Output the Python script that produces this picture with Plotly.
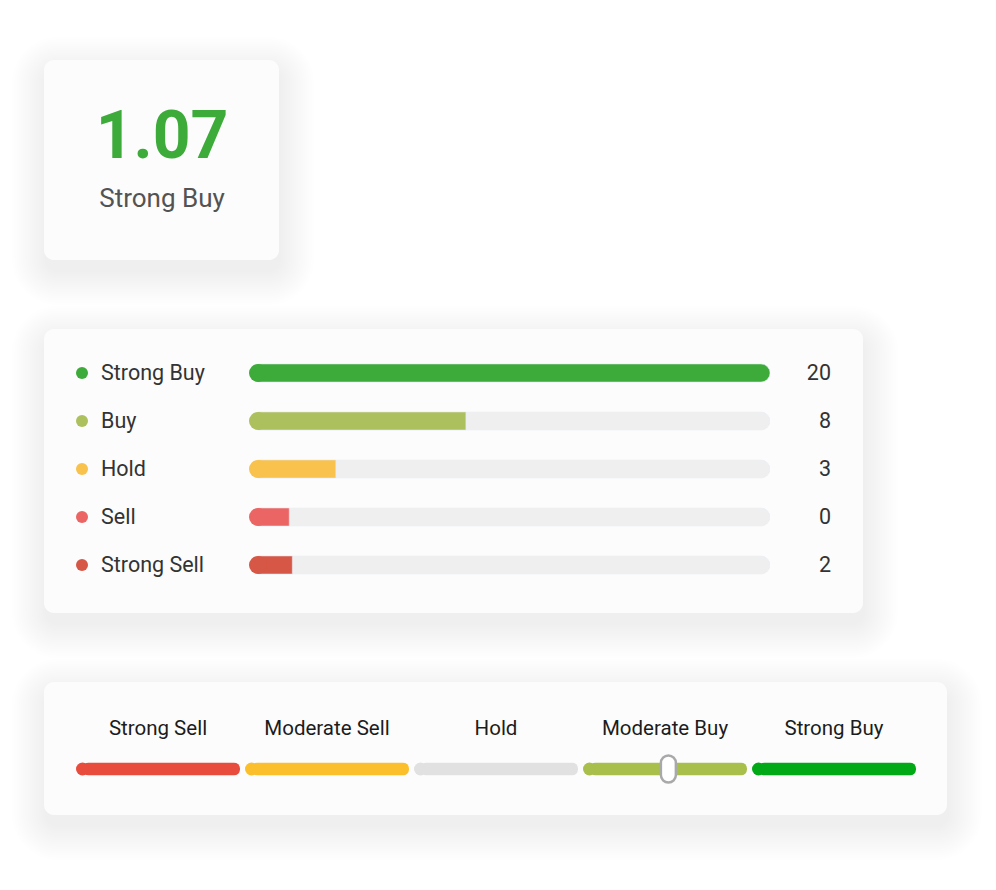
import plotly.graph_objects as go

# ---- data ----
score_value = "1.07"
score_label = "Strong Buy"

rating_names = ["Strong Buy", "Buy", "Hold", "Sell", "Strong Sell"]
rating_counts = [20, 8, 3, 0, 2]
rating_fill_pct = [100, 40.6, 15.2, 6.1, 6.7]   # filled share of each track
rating_colors = ["#3dab3a", "#adc05e", "#f8c24c", "#ec6565", "#d65745"]

gauge_names = ["Strong Sell", "Moderate Sell", "Hold", "Moderate Buy", "Strong Buy"]
gauge_colors = ["#e84c3d", "#fcbf2c", "#e1e1e1", "#a9bf4c", "#02a917"]
knob_value = 3.02   # knob position, in gauge segments (0 = Strong Sell ... 4 = Strong Buy)

OFF = 8                  # body margin of the page
W, H = 996 - OFF, 890 - OFF
FONT = "Roboto"


def px_x(p):
    # page pixel -> paper fraction (x)
    return (p - OFF) / W


def px_y(p):
    # page pixel from top -> paper fraction (y)
    return 1 - (p - OFF) / H


def rounded_rect(x0, y0, x1, y1, r):
    k = 0.5523 * r
    return (f"M {x0+r},{y0} L {x1-r},{y0} C {x1-r+k},{y0} {x1},{y0+r-k} {x1},{y0+r} "
            f"L {x1},{y1-r} C {x1},{y1-r+k} {x1-r+k},{y1} {x1-r},{y1} "
            f"L {x0+r},{y1} C {x0+r-k},{y1} {x0},{y1-r+k} {x0},{y1-r} "
            f"L {x0},{y0+r} C {x0},{y0+r-k} {x0+r-k},{y0} {x0+r},{y0} Z")


fig = go.Figure()
shapes = []

# cards with soft shadows
cards = [(44, 60, 279, 260), (44, 329, 863, 613), (44, 682, 947, 815)]
for (x0, y0, x1, y1) in cards:
    for i in range(16, 0, -1):
        e = i * 2.2
        shapes.append(dict(type="path", xref="x", yref="y", layer="below",
                           path=rounded_rect(x0 - e + 3, y0 - e + 12, x1 + e, y1 + e + 10, 10 + e),
                           fillcolor="rgba(30,30,50,0.0036)", line=dict(width=0)))
    shapes.append(dict(type="path", xref="x", yref="y", layer="below",
                       path=rounded_rect(x0, y0, x1, y1, 10),
                       fillcolor="#fcfcfc", line=dict(width=0)))

# card 1: score
fig.add_trace(go.Scatter(x=[162], y=[141], mode="text", text=[score_value],
                         textfont=dict(family=FONT, size=66, color="#3dab3a", weight="bold"),
                         xaxis="x", yaxis="y", hoverinfo="skip"))
fig.add_trace(go.Scatter(x=[162], y=[200], mode="text", text=[score_label],
                         textfont=dict(family=FONT, size=26, color="#535353"),
                         xaxis="x", yaxis="y", hoverinfo="skip"))

# card 2: rating breakdown bars (left cap drawn by a round marker at the base)
fig.add_trace(go.Bar(y=rating_names, x=[100] * len(rating_names), orientation="h",
                     marker=dict(color="#efefef", cornerradius=9), width=0.375,
                     xaxis="x2", yaxis="y2", hoverinfo="skip"))
fig.add_trace(go.Bar(y=rating_names, x=rating_fill_pct, orientation="h",
                     marker=dict(color=rating_colors, cornerradius=9), width=0.375,
                     xaxis="x2", yaxis="y2", hoverinfo="skip"))
fig.add_trace(go.Scatter(y=rating_names, x=[0] * len(rating_names), mode="markers",
                         marker=dict(color=rating_colors, size=18, line=dict(width=0)),
                         cliponaxis=False, xaxis="x2", yaxis="y2", hoverinfo="skip"))
fig.add_trace(go.Scatter(y=rating_names, x=[82] * len(rating_names), mode="markers",
                         marker=dict(color=rating_colors, size=12, line=dict(width=0)),
                         cliponaxis=False, xaxis="x", yaxis="y2", hoverinfo="skip"))
# text rows sit on a copy of the row axis nudged 2 px down
fig.add_trace(go.Scatter(y=rating_names, x=[101] * len(rating_names), mode="text",
                         text=rating_names, textposition="middle right",
                         textfont=dict(family=FONT, size=21.5, color="#333333"),
                         cliponaxis=False, xaxis="x", yaxis="y4", hoverinfo="skip"))
fig.add_trace(go.Scatter(y=rating_names, x=[831] * len(rating_names), mode="text",
                         text=[str(c) for c in rating_counts], textposition="middle left",
                         textfont=dict(family=FONT, size=21.5, color="#333333"),
                         cliponaxis=False, xaxis="x", yaxis="y4", hoverinfo="skip"))

# card 3: gauge (169 px per segment, 164 px bar, 6.5 px cap radius)
seg_half = 82 / 169
cap = 6.5 / 169
seg_pos = list(range(len(gauge_names)))
fig.add_trace(go.Bar(y=[0] * len(gauge_names), x=[2 * seg_half - cap] * len(gauge_names),
                     base=[i - seg_half + cap for i in seg_pos], orientation="h",
                     marker=dict(color=gauge_colors, cornerradius=6.5, line=dict(width=0)),
                     width=1, xaxis="x3", yaxis="y3", hoverinfo="skip"))
fig.add_trace(go.Scatter(y=[0] * len(gauge_names), x=[i - seg_half + cap for i in seg_pos],
                         mode="markers", marker=dict(color=gauge_colors, size=13, line=dict(width=0)),
                         cliponaxis=False, xaxis="x3", yaxis="y3", hoverinfo="skip"))
fig.add_trace(go.Scatter(x=seg_pos, y=[730] * len(gauge_names), mode="text",
                         text=gauge_names, textposition="middle center",
                         textfont=dict(family=FONT, size=20.5, color="#1c1c1c"),
                         xaxis="x3", yaxis="y", hoverinfo="skip"))

# knob capsule
shapes.append(dict(type="path", xref="x3", yref="y", layer="above",
                   xsizemode="pixel", ysizemode="pixel", xanchor=knob_value, yanchor=769,
                   path=rounded_rect(-7.5, -13.5, 7.5, 13.5, 7.5),
                   fillcolor="#ffffff", line=dict(color="#a9a9a9", width=2.5)))

hidden = dict(visible=False, showgrid=False, zeroline=False, fixedrange=True)
fig.update_layout(
    width=W, height=H, autosize=False,
    margin=dict(l=0, r=0, t=0, b=0),
    paper_bgcolor="#ffffff", plot_bgcolor="rgba(0,0,0,0)",
    showlegend=False, barmode="overlay", shapes=shapes,
    xaxis=dict(range=[OFF, OFF + W], domain=[0, 1], **hidden),
    yaxis=dict(range=[OFF + H, OFF], domain=[0, 1], **hidden),
    xaxis2=dict(range=[0, 100], domain=[px_x(258), px_x(770)], anchor="y2", **hidden),
    yaxis2=dict(type="category", range=[4.5, -0.5], domain=[px_y(589), px_y(349)],
                anchor="x2", **hidden),
    yaxis4=dict(type="category", range=[4.5, -0.5], domain=[px_y(591), px_y(351)],
                anchor="x", **hidden),
    xaxis3=dict(range=[-0.5, 4.5], domain=[px_x(73.5), px_x(918.5)], anchor="y3", **hidden),
    yaxis3=dict(range=[-0.5, 0.5], domain=[px_y(775.5), px_y(762.5)], anchor="x3", **hidden),
)

fig.write_html("out.html")
